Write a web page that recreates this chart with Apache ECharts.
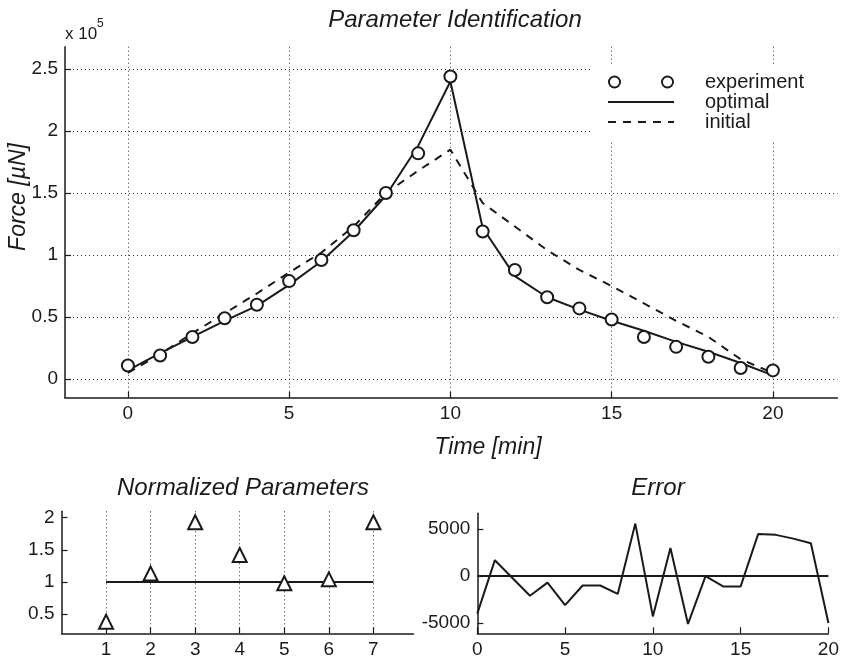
<!DOCTYPE html>
<html>
<head>
<meta charset="utf-8">
<script src="https://cdn.jsdelivr.net/npm/echarts@6/dist/echarts.min.js"></script>
<style>
  html, body { margin: 0; padding: 0; background: #fff; }
  #chart { width: 842px; height: 661px; }
</style>
</head>
<body>
<div id="chart"></div>
<script>
// force values in units of 1e5 uN
const timeMin = [0, 1, 2, 3, 4, 5, 6, 7, 8, 9, 10, 11, 12, 13, 14, 15, 16, 17, 18, 19, 20];
const experiment = [0.11, 0.19, 0.34, 0.49, 0.60, 0.79, 0.96, 1.20, 1.50, 1.82, 2.44, 1.19, 0.88, 0.66, 0.57, 0.48, 0.34, 0.26, 0.18, 0.09, 0.07];
const optimal = [0.07, 0.21, 0.34, 0.47, 0.59, 0.76, 0.95, 1.19, 1.48, 1.88, 2.40, 1.22, 0.83, 0.66, 0.56, 0.47, 0.39, 0.30, 0.22, 0.13, 0.03];
const initial = [0.05, 0.20, 0.37, 0.53, 0.69, 0.86, 1.02, 1.23, 1.50, 1.68, 1.85, 1.42, 1.23, 1.04, 0.88, 0.75, 0.61, 0.47, 0.34, 0.16, 0.05];
const forceTicks = [0, 0.5, 1, 1.5, 2, 2.5];
const timeTicks = [0, 5, 10, 15, 20];

const paramIndex = [1, 2, 3, 4, 5, 6, 7];
const paramValues = [0.38, 1.13, 1.93, 1.42, 0.98, 1.04, 1.93];
const paramTicks = [0.5, 1, 1.5, 2];

const errorValues = [-4000, 1700, -200, -2100, -700, -3100, -1000, -1000, -1900, 5600, -4300, 3000, -5100, 0, -1100, -1100, 4500, 4400, 4000, 3500, -5000];
const errorTicks = [-5000, 0, 5000];

const FONT = "'Liberation Sans', Arial, sans-serif";
const INK = "#1a1a1a";

const zip = (xs, ys) => xs.map((x, i) => [x, ys[i]]);
const plain = (v) => String(v);

function baseAxis(extra) {
  return Object.assign({
    type: "value",
    axisLine: { show: true, onZero: false, lineStyle: { color: INK, width: 1.5 } },
    axisTick: { show: true, inside: true, length: 6, lineStyle: { color: INK, width: 1.2 } },
    axisLabel: { color: INK, fontFamily: FONT, fontSize: 19, margin: 7, formatter: plain },
    splitLine: { show: false }
  }, extra);
}
const dotted = { show: true, lineStyle: { color: "#333", width: 1, type: [1, 3] } };
const ticksAt = (vals) => Object.assign({}, baseAxis().axisTick, { customValues: vals });
const labelsAt = (vals) => Object.assign({}, baseAxis().axisLabel, { customValues: vals });

const chart = echarts.init(document.getElementById("chart"), null, { renderer: "canvas" });

const ringIcon = "path://M0,6.5A6.5,6.5,0,1,0,13,6.5A6.5,6.5,0,1,0,0,6.5Z" +
  "M1.9,6.5A4.6,4.6,0,1,1,11.1,6.5A4.6,4.6,0,1,1,1.9,6.5Z" +
  "M53,6.5A6.5,6.5,0,1,0,66,6.5A6.5,6.5,0,1,0,53,6.5Z" +
  "M54.9,6.5A4.6,4.6,0,1,1,64.1,6.5A4.6,4.6,0,1,1,54.9,6.5Z";

chart.setOption({
  animation: false,
  backgroundColor: "#fff",
  textStyle: { fontFamily: FONT, color: INK },
  grid: [
    { left: 65, top: 46.7, width: 772.4, height: 351 },
    { left: 61.5, top: 511.3, width: 352, height: 122 },
    { left: 477.3, top: 513.3, width: 356, height: 120 }
  ],
  xAxis: [
    baseAxis({
      gridIndex: 0, min: -1.95, max: 22,
      axisTick: ticksAt(timeTicks), axisLabel: labelsAt(timeTicks),
      splitLine: Object.assign({ customValues: timeTicks }, dotted)
    }),
    baseAxis({
      gridIndex: 1, min: 0, max: 7.9,
      axisTick: ticksAt(paramIndex), axisLabel: labelsAt(paramIndex),
      splitLine: Object.assign({ customValues: paramIndex }, dotted)
    }),
    baseAxis({ gridIndex: 2, min: 0, max: 20, interval: 5 })
  ],
  yAxis: [
    baseAxis({
      gridIndex: 0, min: -0.15, max: 2.68,
      axisTick: ticksAt(forceTicks), axisLabel: labelsAt(forceTicks),
      splitLine: Object.assign({ customValues: forceTicks }, dotted)
    }),
    baseAxis({
      gridIndex: 1, min: 0.2, max: 2.1,
      axisTick: ticksAt(paramTicks), axisLabel: labelsAt(paramTicks)
    }),
    baseAxis({
      gridIndex: 2, min: -6100, max: 6700,
      axisTick: ticksAt(errorTicks), axisLabel: labelsAt(errorTicks)
    })
  ],
  legend: {
    left: 593, top: 64,
    orient: "vertical",
    backgroundColor: "#fff",
    padding: [8, 60, 8, 14],
    itemGap: 0,
    itemWidth: 66, itemHeight: 13,
    textStyle: { fontFamily: FONT, fontSize: 20, color: INK, lineHeight: 20, padding: [0, 0, 0, 26] },
    data: [
      { name: "experiment", icon: ringIcon, itemStyle: { color: INK, borderWidth: 0 } },
      { name: "optimal", itemStyle: { opacity: 0 } },
      { name: "initial", itemStyle: { opacity: 0 } }
    ]
  },
  graphic: [
    { type: "text", x: 455, y: 20, style: { text: "Parameter Identification", font: "italic 24px " + FONT, fill: INK, align: "center", verticalAlign: "middle" } },
    { type: "text", x: 65, y: 34, style: { text: "x 10", font: "17px " + FONT, fill: INK, align: "left", verticalAlign: "middle" } },
    { type: "text", x: 97, y: 24, style: { text: "5", font: "12px " + FONT, fill: INK, align: "left", verticalAlign: "middle" } },
    { type: "text", x: 19, y: 197, rotation: Math.PI / 2, style: { text: "Force [\u00b5N]", font: "italic 23px " + FONT, fill: INK, align: "center", verticalAlign: "middle" } },
    { type: "text", x: 488, y: 448, style: { text: "Time [min]", font: "italic 23px " + FONT, fill: INK, align: "center", verticalAlign: "middle" } },
    { type: "text", x: 243, y: 488, style: { text: "Normalized Parameters", font: "italic 24px " + FONT, fill: INK, align: "center", verticalAlign: "middle" } },
    { type: "text", x: 658, y: 488, style: { text: "Error", font: "italic 24px " + FONT, fill: INK, align: "center", verticalAlign: "middle" } }
  ],
  series: [
    {
      name: "experiment", type: "scatter", xAxisIndex: 0, yAxisIndex: 0,
      data: zip(timeMin, experiment),
      symbol: "emptyCircle", symbolSize: 12,
      itemStyle: { color: INK, borderWidth: 2, opacity: 1 }, z: 5
    },
    {
      name: "optimal", type: "line", xAxisIndex: 0, yAxisIndex: 0,
      data: zip(timeMin, optimal), symbol: "none",
      itemStyle: { color: INK },
      lineStyle: { color: INK, width: 2 }
    },
    {
      name: "initial", type: "line", xAxisIndex: 0, yAxisIndex: 0,
      data: zip(timeMin, initial), symbol: "none",
      itemStyle: { color: INK },
      lineStyle: { color: INK, width: 2, type: [8, 7] }
    },
    {
      name: "reference", type: "line", xAxisIndex: 1, yAxisIndex: 1,
      data: [[paramIndex[0], 1], [paramIndex[paramIndex.length - 1], 1]], symbol: "none",
      lineStyle: { color: INK, width: 2 }
    },
    {
      name: "parameters", type: "scatter", xAxisIndex: 1, yAxisIndex: 1,
      data: zip(paramIndex, paramValues),
      symbol: "emptyTriangle", symbolSize: 14,
      itemStyle: { color: INK, borderWidth: 2, opacity: 1 }, z: 5
    },
    {
      name: "error", type: "line", xAxisIndex: 2, yAxisIndex: 2,
      data: zip(timeMin, errorValues), symbol: "none",
      lineStyle: { color: INK, width: 2 },
      markLine: {
        silent: true, symbol: "none", label: { show: false },
        lineStyle: { color: INK, width: 2, type: "solid" },
        data: [{ yAxis: 0 }]
      }
    }
  ]
});
</script>
</body>
</html>
